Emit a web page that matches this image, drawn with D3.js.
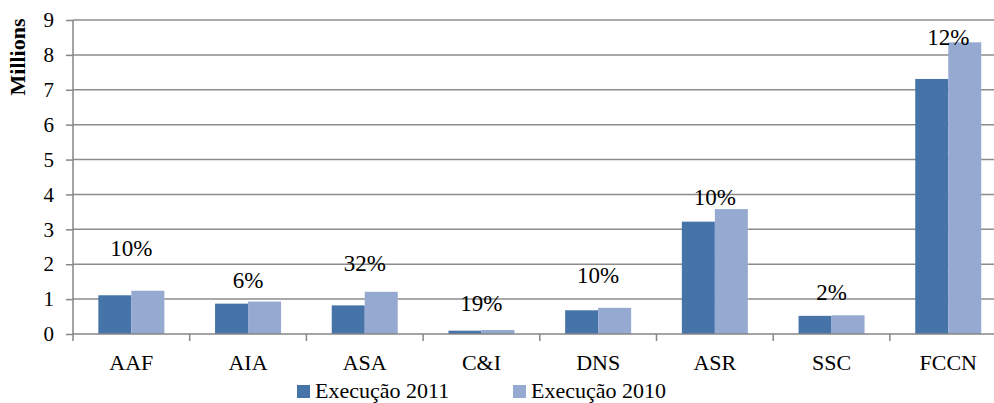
<!DOCTYPE html>
<meta charset="utf-8">
<html>
<head>
<title>Execução 2011 vs 2010</title>
<script src="https://d3js.org/d3.v7.min.js"></script>
<style>
  body {margin: 0; background: #fff; font-family: "Liberation Serif", serif;}
  .axis text {font-family: "Liberation Serif", serif; font-size: 21px; fill: #000;}
  .axis .cat {font-size: 22px;}
  .axis path, .axis line {stroke: #868686; stroke-width: 1.5px;}
  .grid line {stroke: #8c8c8c; stroke-width: 1.5px;}
  .pct {font-family: "Liberation Serif", serif; font-size: 23px;}
  .legend text {font-family: "Liberation Serif", serif; font-size: 22px;}
</style>
</head>
<body>
<svg id="chart" width="994" height="403"></svg>
<script>
// data (millions)
var categories = ["AAF", "AIA", "ASA", "C&I", "DNS", "ASR", "SSC", "FCCN"];
var exec2011 = [1.11, 0.87, 0.82, 0.095, 0.68, 3.22, 0.52, 7.31];
var exec2010 = [1.24, 0.93, 1.21, 0.115, 0.75, 3.58, 0.535, 8.36];
var pctLabels = ["10%", "6%", "32%", "19%", "10%", "10%", "2%", "12%"];
var pctAt = [2.46, 1.55, 2.04, 0.89, 1.69, 3.93, 1.20, 8.52];
var seriesNames = ["Execução 2011", "Execução 2010"];
var colors = ["#4673a8", "#95a9d1"];
var yTicks = [0, 1, 2, 3, 4, 5, 6, 7, 8, 9];

var svg = d3.select("#chart"),
    margin = {top: 20, left: 73, bottom: 69},
    height = +svg.attr("height") - margin.top - margin.bottom,
    plotRight = 73 + 8 * 116.7;

var x0 = d3.scaleBand().domain(categories).range([margin.left, plotRight]).padding(0);
var x1 = d3.scaleBand().domain(seriesNames).range([0, x0.bandwidth()]).paddingInner(0).paddingOuter(0.768);
var y = d3.scaleLinear().domain([0, 9]).range([margin.top + height, margin.top]);

// gridlines
svg.append("g").attr("class", "grid")
  .selectAll("line").data(yTicks.slice(1)).enter().append("line")
    .attr("x1", margin.left).attr("x2", 994)
    .attr("y1", function (d) { return y(d); })
    .attr("y2", function (d) { return y(d); });

var rows = categories.map(function (c, i) {
  return {cat: c, vals: [exec2011[i], exec2010[i]], pct: pctLabels[i], at: pctAt[i]};
});

var groups = svg.append("g").selectAll("g").data(rows).enter().append("g")
    .attr("transform", function (d) { return "translate(" + x0(d.cat) + ",0)"; });

groups.selectAll("rect")
  .data(function (d) { return d.vals.map(function (v, j) { return {s: seriesNames[j], v: v, j: j}; }); })
  .enter().append("rect")
    .attr("x", function (d) { return x1(d.s); })
    .attr("width", x1.bandwidth())
    .attr("y", function (d) { return y(d.v); })
    .attr("height", function (d) { return y(0) - y(d.v); })
    .attr("fill", function (d) { return colors[d.j]; });

groups.append("text").attr("class", "pct")
    .attr("x", x0.bandwidth() / 2)
    .attr("y", function (d) { return y(d.at); })
    .attr("dy", "0.35em")
    .attr("text-anchor", "middle")
    .text(function (d) { return d.pct; });

// axes
svg.append("g").attr("class", "axis")
    .attr("transform", "translate(" + margin.left + ",0)")
    .call(d3.axisLeft(y).tickValues(yTicks).tickSize(7).tickSizeOuter(0).tickPadding(12))
    .select(".domain").attr("d", "M0," + y(9) + "V" + y(0));

var xAxis = svg.append("g").attr("class", "axis")
    .attr("transform", "translate(0," + y(0) + ")");
xAxis.append("line").attr("x1", margin.left).attr("x2", 994).attr("y1", 0).attr("y2", 0);
xAxis.selectAll(".tk").data(categories).enter().append("line").attr("class", "tk")
    .attr("x1", function (d) { return x0(d); }).attr("x2", function (d) { return x0(d); })
    .attr("y1", 0).attr("y2", 7);
xAxis.selectAll("text").data(categories).enter().append("text").attr("class", "cat")
    .attr("x", function (d) { return x0(d) + x0.bandwidth() / 2; })
    .attr("y", 36)
    .attr("text-anchor", "middle")
    .text(function (d) { return d; });

svg.append("text")
    .attr("transform", "translate(25,57) rotate(-90)")
    .attr("text-anchor", "middle")
    .style("font-family", "'Liberation Serif', serif")
    .style("font-weight", "bold")
    .style("font-size", "22px")
    .text("Millions");

// legend
var legendX = [297, 513];
var legend = svg.append("g").attr("class", "legend").selectAll("g").data(seriesNames).enter().append("g")
    .attr("transform", function (d, i) { return "translate(" + legendX[i] + ",385)"; });
legend.append("rect").attr("width", 13).attr("height", 13).attr("fill", function (d, i) { return colors[i]; });
legend.append("text").attr("x", 18).attr("y", 12.5).text(function (d) { return d; });
</script>
</body>
</html>
